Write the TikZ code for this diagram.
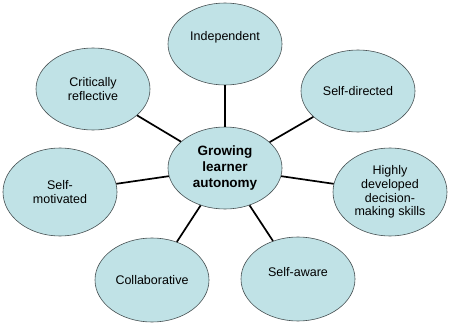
\documentclass[tikz,border=0pt]{standalone}
\usepackage{fontspec}
\setmainfont{Liberation Sans}
\usetikzlibrary{shapes.geometric}

\definecolor{bubblefill}{RGB}{192,226,230}
\definecolor{bubbleline}{RGB}{70,80,82}

\tikzset{
  bubble/.style={ellipse, draw=bubbleline, line width=0.6pt, fill=bubblefill,
    minimum width=114pt, minimum height=82pt, inner sep=0pt, align=center,
    font=\fontsize{12.5}{13.7}\selectfont},
  hub/.style={bubble, font=\fontsize{13.5}{16}\selectfont\bfseries},
  spoke/.style={line width=1.7pt, black}
}

\begin{document}
\begin{tikzpicture}[x=1pt,y=-1pt]
\useasboundingbox (0,0) rectangle (450,332);

\begin{scope}
        \node[hub] (hub) at (225,168) {Growing\\learner\\autonomy};

        \node[bubble, text depth=16pt] (indep) at (225,44) {Independent};
        \node[bubble] (critic) at (93,89) {Critically\\reflective};
        \node[bubble] (selfdir) at (358,91) {Self-directed};
        \node[bubble, minimum height=88pt] (motiv) at (60,192) {Self-\\motivated};
        \node[bubble, minimum height=88pt] (decide) at (390,192) {Highly\\developed\\decision-\\making skills};
        \node[bubble, minimum height=84pt] (collab) at (152,280) {Collaborative};
        \node[bubble, minimum height=84pt, text depth=14pt] (aware) at (298,279) {Self-aware};

        % Połączenia
        \draw[spoke] (hub) -- (indep);
        \draw[spoke] (hub) -- (critic);
        \draw[spoke] (hub) -- (selfdir);
        \draw[spoke] (hub) -- (motiv);
        \draw[spoke] (hub) -- (decide);
        \draw[spoke] (hub) -- (collab);
        \draw[spoke] (hub) -- (aware);
\end{scope}

\end{tikzpicture}
\end{document}
